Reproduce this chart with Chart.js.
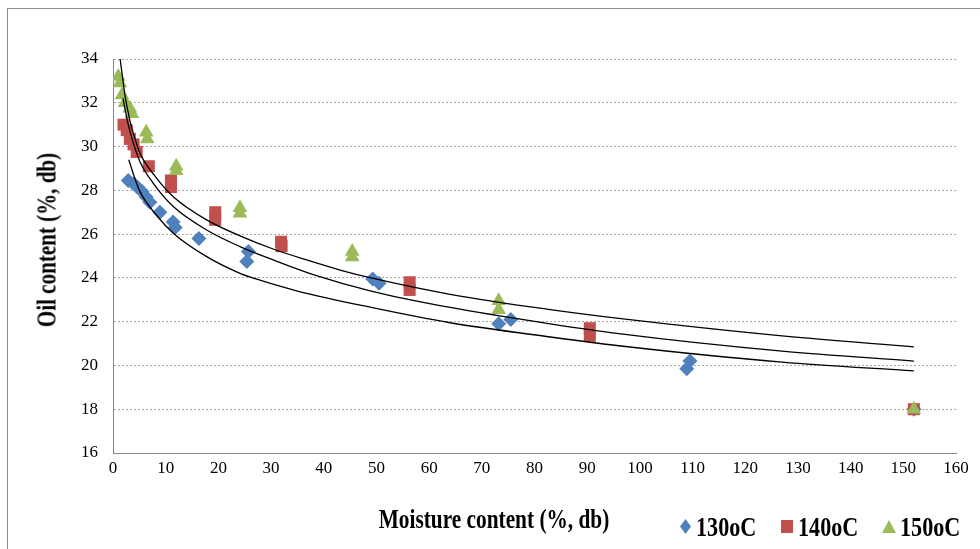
<!DOCTYPE html>
<html>
<head>
<meta charset="utf-8">
<script src="https://cdn.jsdelivr.net/npm/chart.js@4.4.1/dist/chart.umd.min.js"></script>
<style>
  body { margin: 0; background: #fff; }
  #wrap { position: relative; width: 980px; height: 549px; overflow: hidden; font-family: "Liberation Serif", "Times New Roman", serif; }
  #frame { position: absolute; left: 7px; top: 8px; width: 1000px; height: 600px; border-left: 1px solid #8c8c8c; border-top: 1px solid #8c8c8c; }
  canvas { position: absolute; left: 0; top: 0; }
  .title { position: absolute; font-weight: bold; font-size: 27px; white-space: nowrap; color: #000; }
  #ytitle { left: 47px; top: 240px; transform: translate(-50%, -50%) rotate(-90deg) scaleX(0.78); }
  #xtitle { left: 494px; top: 519px; transform: translate(-50%, -50%) scaleX(0.79); }
  .legtext { position: absolute; top: 527px; font-weight: bold; font-size: 27px; white-space: nowrap; transform: translateY(-50%) scaleX(0.82); transform-origin: left center; }
  .mk { position: absolute; }
</style>
</head>
<body>
<div id="wrap">
  <div id="frame"></div>
  <canvas id="chart" width="980" height="549"></canvas>
  <div id="ytitle" class="title">Oil content (%, db)</div>
  <div id="xtitle" class="title">Moisture content (%, db)</div>
  <div class="mk" style="left:680px;top:519px;width:11px;height:15px;background:#4f81bd;clip-path:polygon(50% 0,100% 50%,50% 100%,0 50%);"></div>
  <div class="legtext" style="left:696px;">130oC</div>
  <div class="mk" style="left:781px;top:520px;width:12px;height:13px;background:#c0504d;"></div>
  <div class="legtext" style="left:798px;">140oC</div>
  <div class="mk" style="left:882px;top:520px;width:14px;height:13px;background:#9bbb59;clip-path:polygon(50% 0,100% 100%,0 100%);"></div>
  <div class="legtext" style="left:900px;">150oC</div>
</div>
<script>
const x130 = [2.9, 3.9, 4.6, 5.5, 6.3, 7.0, 8.9, 11.4, 11.8, 16.3, 25.4, 25.7, 49.3, 50.5, 73.2, 75.5, 108.9, 109.5, 152];
const y130 = [28.45, 28.3, 28.15, 27.95, 27.7, 27.45, 27.0, 26.55, 26.3, 25.8, 24.75, 25.2, 23.95, 23.75, 21.9, 22.1, 19.85, 20.2, 18.0];

const x140 = [2.0, 2.6, 3.2, 3.9, 4.5, 6.8, 11.0, 11.0, 19.4, 19.4, 31.9, 32.0, 56.3, 56.3, 90.5, 90.5, 152];
const y140 = [31.0, 30.75, 30.35, 30.1, 29.75, 29.1, 28.45, 28.15, 27.0, 26.65, 25.65, 25.45, 23.8, 23.45, 21.7, 21.35, 18.0];

const x150 = [1.0, 1.3, 1.7, 2.3, 3.2, 3.6, 6.3, 6.5, 12.0, 12.0, 24.1, 24.1, 45.4, 45.4, 73.2, 73.2, 152];
const y150 = [33.2, 32.9, 32.35, 32.0, 31.75, 31.5, 30.65, 30.35, 29.1, 28.9, 27.2, 26.95, 25.2, 24.95, 22.95, 22.55, 18.0];

// trend lines, points
const trend150X = [1.33, 2.3, 3.2, 4.0, 5.12, 7.97, 11.44, 17.78, 24.1, 30.4, 36.75, 43.1, 49, 64, 83, 96, 127, 152];
const trend150Y = [34.05, 32.3, 31.2, 30.5, 29.69, 28.65, 27.71, 26.65, 25.92, 25.32, 24.82, 24.36, 24.0, 23.25, 22.55, 22.15, 21.35, 20.85];
const trend140X = [1.9, 2.8, 3.8, 5.12, 7.65, 11.44, 17.78, 24.1, 30.4, 38, 49, 64, 83, 96, 127, 152];
const trend140Y = [32.2, 31.1, 30.2, 29.31, 28.32, 27.26, 26.19, 25.43, 24.82, 24.15, 23.4, 22.65, 21.9, 21.45, 20.65, 20.2];
const trend130X = [3.0, 4.0, 5.12, 8.3, 11.44, 17.78, 24.1, 27.3, 35, 49, 64, 83, 96, 127, 152];
const trend130Y = [29.4, 28.65, 27.94, 26.85, 26.04, 24.97, 24.21, 23.94, 23.4, 22.65, 21.95, 21.3, 20.9, 20.15, 19.75];

const xTicks = [0, 160, 10];   // min, max, step
const yTicks = [16, 34, 2];

function pts(xs, ys) {
    return xs.map((x, i) => ({ x: x, y: ys[i] }));
}

function trend(xs, ys) {
    return {
        data: pts(xs, ys),
        showLine: true,
        borderColor: '#000',
        borderWidth: 1.3,
        pointRadius: 0,
        cubicInterpolationMode: 'monotone',
        order: 0
    };
}

new Chart(document.getElementById('chart'), {
    type: 'scatter',
    data: {
        datasets: [
            trend(trend150X, trend150Y),
            trend(trend140X, trend140Y),
            trend(trend130X, trend130Y),
            {
                label: '150oC', data: pts(x150, y150), pointStyle: 'triangle', pointRadius: 8.5,
                backgroundColor: '#9bbb59', borderColor: '#9bbb59', borderWidth: 0, order: 1
            },
            {
                label: '140oC', data: pts(x140, y140), pointStyle: 'rect', pointRadius: 8.5,
                backgroundColor: '#c0504d', borderColor: '#c0504d', borderWidth: 0, order: 2
            },
            {
                label: '130oC', data: pts(x130, y130), pointStyle: 'rectRot', pointRadius: 7.5,
                backgroundColor: '#4f81bd', borderColor: '#4f81bd', borderWidth: 0, order: 3
            }
        ]
    },
    options: {
        responsive: false,
        animation: false,
        layout: { padding: { left: 0, top: 59, right: 24, bottom: 0 } },
        plugins: { legend: { display: false }, tooltip: { enabled: false } },
        scales: {
            x: {
                type: 'linear',
                min: xTicks[0], max: xTicks[1],
                ticks: { stepSize: xTicks[2], padding: 5, color: '#000', font: { family: 'Liberation Serif', size: 17 }, maxRotation: 0 },
                grid: { display: false, drawTicks: false },
                border: { display: true, color: '#868686', width: 1 },
                afterFit: (axis) => { axis.height = 96; }
            },
            y: {
                min: yTicks[0], max: yTicks[1],
                ticks: { stepSize: yTicks[2], padding: 15, color: '#000', font: { family: 'Liberation Serif', size: 17 } },
                grid: { color: '#a6a6a6', drawTicks: false },
                // in v4 border.dash sets the dotted grid lines
                border: { display: true, color: '#868686', width: 1, dash: [2, 2] },
                afterFit: (axis) => { axis.width = 113; }
            }
        }
    }
});
</script>
</body>
</html>
